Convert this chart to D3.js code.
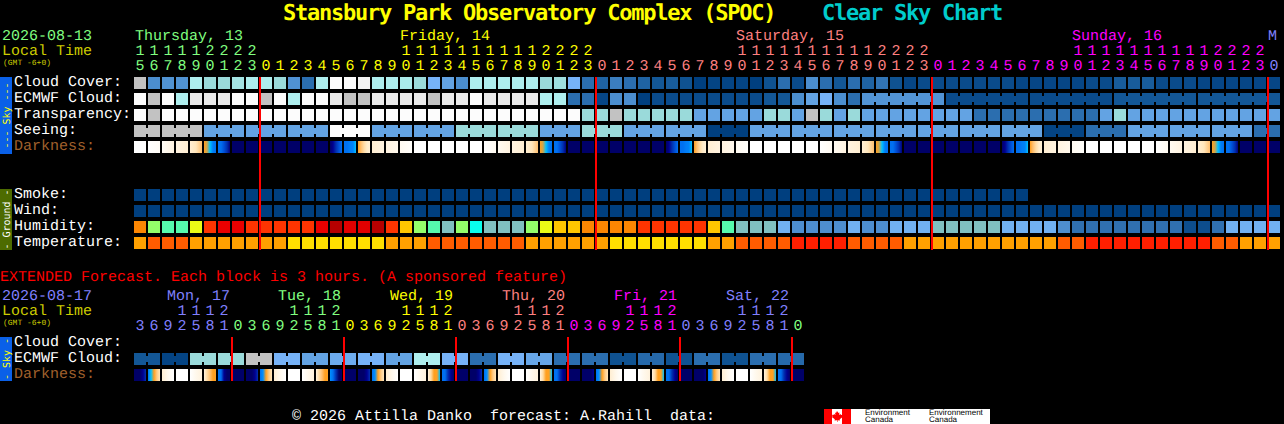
<!DOCTYPE html>
<html>
<head>
<meta charset="utf-8">
<title>Stansbury Park Observatory Complex (SPOC) Clear Sky Chart</title>
<script src="https://d3js.org/d3.v7.min.js"></script>
<style>
    body { margin: 0; background: #000; overflow: hidden; }
    svg { display: block; }
    text { font-family: "Liberation Mono", monospace; font-size: 15px; white-space: pre; text-rendering: geometricPrecision; }
</style>
</head>
<body>
<div id="chart"></div>
<script>
// Hours shown on the hourly chart, starts at 15:00 Thursday
var hours = [15, 16, 17, 18, 19, 20, 21, 22, 23,
    0, 1, 2, 3, 4, 5, 6, 7, 8, 9, 10, 11, 12, 13, 14, 15, 16, 17, 18, 19, 20, 21, 22, 23,
    0, 1, 2, 3, 4, 5, 6, 7, 8, 9, 10, 11, 12, 13, 14, 15, 16, 17, 18, 19, 20, 21, 22, 23,
    0, 1, 2, 3, 4, 5, 6, 7, 8, 9, 10, 11, 12, 13, 14, 15, 16, 17, 18, 19, 20, 21, 22, 23,
    0];

// Hours on the extended chart, each block is 3 hours
var extHours = [3, 6, 9, 12, 15, 18, 21,
    0, 3, 6, 9, 12, 15, 18, 21,
    0, 3, 6, 9, 12, 15, 18, 21,
    0, 3, 6, 9, 12, 15, 18, 21,
    0, 3, 6, 9, 12, 15, 18, 21,
    0, 3, 6, 9, 12, 15, 18, 21,
    0];

// Column where each day starts
var dayStarts = [0, 9, 33, 57, 81];
var extDayStarts = [0, 7, 15, 23, 31, 39, 47];

var dayNames = ["Thursday, 13", "Friday, 14", "Saturday, 15", "Sunday, 16", "M"];
var extDayNames = ["Mon, 17", "Tue, 18", "Wed, 19", "Thu, 20", "Fri, 21", "Sat, 22"];

// Midnights get a red line
var midnights = [9, 33, 57, 81];
var extMidnights = [7, 15, 23, 31, 39, 47];

// Cloud in percent
var cloudCover = [80, 30, 32, 32, 70, 60, 60, 65, 70, 70, 60, 32, 20, 70, 100, 100, 95, 70, 70, 68, 60,
    50, 40, 30, 70, 70, 70, 70, 70, 60, 62, 50, 20, 15, 25, 20, 15, 10, 12, 8, 0, 2, 2, 2, 0, 8, 20, 5, 30, 20, 10, 20,
    15, 22, 8, 3, 5, 5, 5, 5, 5, 5, 5, 3, 3, 3, 3, 3, 5, 5, 12, 12, 12, 5, 5, 5, 3, 3, 3, 3, 3, 3];

var ecmwfCloud = [100, 80, 100, 70, 90, 90, 90, 100, 100, 80, 100, 70, 100, 100, 90, 80, 80, 90, 90, 90, 90,
    80, 90, 90, 100, 90, 90, 90, 90, 70, 70, 20, 20, 3, 30, 30, 0, 5, 5, 5, 5, 5, 5, 5, 5, 10, 10, 30, 40, 50, 30, 20,
    33, 33, 33, 33, 33, 33, 5, 5, 5, 5, 5, 5, 5, 5, 5, 5, 5, 5, 10, 10, 10, 10, 10, 10, 10, 10, 10, 10, 10, 10];

var ecmwfRuns = [[52, 57], [58, 63], [64, 69], [70, 75], [76, 81]];

var transparency = [100, 80, 100, 100, 100, 100, 100, 100, 100, 100, 100, 100, 100, 100, 100, 100, 100, 100, 100, 100, 100,
    100, 100, 100, 100, 100, 100, 100, 100, 100, 100, 100, 60, 60, 80, 60, 60, 60, 60, 60, 40, 40, 40, 40, 40, 60, 60, 40, 80, 60, 40, 60,
    40, 40, 40, 40, 40, 40, 40, 40, 20, 20, 20, 20, 20, 20, 20, 20, 20, 40, 60, 40, 40, 40, 40, 40, 40, 40, 40, 40, 40, 40];

var seeing = [80, 80, 80, 80, 80, 40, 40, 40, 40, 40, 40, 40, 40, 40, 100, 100, 100, 40, 40, 40, 40,
    40, 40, 60, 60, 60, 60, 60, 60, 40, 40, 40, 60, 60, 60, 40, 40, 40, 40, 40, 40, 0, 0, 0, 40, 40, 40, 40, 40, 40, 40, 40,
    40, 40, 40, 40, 40, 40, 40, 40, 40, 40, 40, 40, 40, 2, 2, 2, 20, 20, 20, 40, 40, 40, 40, 40, 40, 40, 40, 40, 20, 20];

var seeingRuns = [[0, 1], [2, 4], [5, 7], [8, 10], [11, 13], [14, 16], [17, 19], [20, 22], [23, 25], [26, 28],
    [29, 31], [32, 34], [35, 37], [38, 40], [41, 43], [44, 46], [47, 49], [50, 52], [53, 55], [56, 58],
    [59, 61], [62, 64], [65, 67], [68, 70], [71, 73], [74, 76], [77, 79], [80, 81]];

// Limiting magnitude, a list means samples across one block from left to right
var darkness = [-4, [-4, -3.4], [-3.4, -2.6], [-2.6, -2.2], [-2.2, -1.8, -1], [-0.5, -0.4, 0, 0.8, 1], [1, 1, 2, 3, 4.5],
    5, 5, 5, 5, 5, 5, 5, [5, 4, 3, 2, 1], [1, 1, 0.8, 0.7, 0], [-0.5, -1, -1.5, -2, -2.3], [-2.2, -2.6], [-2.6, -3], [-3.2, -3.7], -4,
    -4, -4, -4, -4, [-4, -3.2], [-3.2, -2.6], [-2.6, -2.2], [-2.2, -1.8, -1], [-0.5, -0.4, 0, 0.8, 1], [1, 1, 2, 3, 4.5],
    5, 5, 5, 5, 5, 5, 5, [5, 4, 3, 2, 1], [1, 1, 0.8, 0.7, 0], [-0.5, -1, -1.5, -2, -2.3], [-2.2, -2.6], [-2.6, -3], [-3.2, -3.7],
    -4, -4, -4, -4, -4, [-4, -3.2], [-3.2, -2.6], [-2.6, -2.2],
    [-2.2, -1.8, -1], [-0.5, -0.4, 0, 0.8, 1], [1, 1, 2, 3, 4.5],
    5, 5, 5, 5, 5, 5, 5, [5, 4, 3, 2, 1], [1, 1, 0.8, 0.7, 0], [-0.5, -1, -1.5, -2, -2.3], [-2.2, -2.6], [-2.6, -3], [-3.2, -3.7],
    -4, -4, -4, -4, -4, [-4, -3.2], [-3.2, -2.6], [-2.6, -2.2], [-2.2, -1.8, -1], [-0.5, -0.4, 0, 0.8, 1], [1, 1, 2, 3, 4.5],
    5, 5, 5];

// Smoke stops early, the model has no data past that
var smoke = [0, 0, 0, 0, 0, 0, 0, 0, 0, 0, 0, 0, 0, 0, 0, 0, 0, 0, 0, 0, 0,
    0, 0, 0, 0, 0, 0, 0, 0, 0, 0, 0, 0, 0, 0, 0, 0, 0, 0, 0, 0, 0, 0, 0, 0, 0, 0, 0, 0, 0, 0, 0,
    0, 0, 0, 0, 0, 0, 0, 0, 0, 0, 0, 0];

var wind = [0, 0, 0, 0, 0, 0, 0, 0, 0, 0, 0, 0, 0, 0, 0, 0, 0, 0, 0, 0, 0,
    0, 0, 0, 0, 0, 0, 0, 0, 0, 0, 0, 0, 0, 0, 0, 0, 0, 0, 0, 0, 0, 0, 0, 0, 0, 0, 0, 0, 0, 0, 0,
    0, 0, 0, 0, 0, 0, 0, 0, 0, 0, 0, 0, 0, 0, 0, 0, 0, 0, 0, 0, 0, 0, 0, 0, 0, 0, 0, 0, 0, 0];

// Humidity in percent
var humidity = [77, 62, 57, 57, 67, 82, 87, 87, 82, 82, 82, 82, 82, 87, 92, 97, 97, 92, 82, 72, 62,
    57, 47, 62, 52, 47, 47, 47, 62, 67, 72, 72, 77, 77, 77, 77, 82, 82, 82, 82, 82, 72, 57, 47, 47, 47, 42, 37, 37, 37, 37, 42,
    37, 37, 42, 42, 42, 47, 47, 47, 47, 47, 42, 42, 42, 42, 37, 32, 32, 32, 32, 32, 32, 32, 32, 27, 27, 32, 42, 42, 42, 42];

// Temperature in Fahrenheit
var temperature = [78, 85, 85, 85, 78, 78, 78, 78, 78, 78, 78, 70, 70, 70, 70, 70, 70, 70, 78, 78, 78,
    85, 85, 85, 85, 85, 85, 85, 78, 78, 78, 78, 78, 78, 70, 70, 70, 70, 70, 70, 70, 78, 78, 85, 85, 85, 85, 92, 92, 92, 92, 85,
    85, 85, 85, 78, 78, 78, 78, 78, 78, 78, 78, 78, 78, 78, 85, 85, 92, 92, 92, 92, 92, 92, 92, 92, 92, 85, 85, 78, 78, 78];

// Extended chart values, one per 3 hour block
var extEcmwf = [10, 10, 2, 2, 60, 60, 60, 60, 80, 80, 50, 50, 40, 40, 45, 45, 50, 50, 40, 40,
    70, 70, 50, 50, 20, 20, 50, 50, 42, 42, 20, 20, 20, 20, 8, 8, 18, 18, 8, 8, 20, 20, 8, 8, 20, 20, 18, 18];

var extRuns = [[0, 1], [2, 3], [4, 5], [6, 7], [8, 9], [10, 11], [12, 13], [14, 15], [16, 17], [18, 19], [20, 21], [22, 23],
    [24, 25], [26, 27], [28, 29], [30, 31], [32, 33], [34, 35], [36, 37], [38, 39], [40, 41], [42, 43], [44, 45], [46, 47]];

var extDarkness = [[5, 5, 5, 4, 3], [1, 0, -0.5, -1.2, -1.8], [-2.2, -3, -4], -4, [-4, -3, -2.5], [-2.5, -1.5, -1, -0.5, -0.5], [1, 1, 4, 5, 5],
    5, [5, 5, 5, 4, 3], [1, 0.5, -0.5, -1.2, -1.8], [-2.2, -3, -4], -4, [-4, -3, -2.5], [-2.5, -1.5, -1, -0.5, -0.5], [0.5, 1, 3, 5, 5],
    5, [5, 5, 5, 4, 3], [1, 0.5, -0.5, -1.2, -1.8], [-2.2, -3, -4], -4, [-4, -3, -2.5], [-2.5, -1.5, -0.5, -0.5, 0], [1, 1, 3, 4, 5],
    5, [5, 5, 5, 4, 3], [1, 0.5, -0.5, -1.2, -1.8], [-2.2, -3, -4], -4, [-4, -3, -2.5], [-2.5, -1.5, -0.5, -0.5, 0], [1, 1, 3, 4, 5],
    5, [5, 5, 5, 5, 4], [1, 0.5, -0.5, -1.2, -1.8], [-2.2, -3, -4], -4, [-4, -3, -2.5], [-2.5, -1.5, -0.5, -0.5, 0], [1, 1, 3, 4, 5],
    5, [5, 5, 5, 5, 4], [1, 0.5, -0.5, -1.2, -1.8], [-2.2, -3, -4], -4, [-4, -3, -2.5], [-2.5, -1.5, -0.5, -0.5, 0], [1, 1, 3, 4, 5],
    5];

// Colour scales
var cloudScale = d3.scaleLinear()
    .domain([0, 10, 20, 30, 40, 50, 60, 70, 80, 90, 100])
    .range(["#003f7f", "#135796", "#2b6eaf", "#4b8ecf", "#63a3e3", "#76b2f7", "#9adada", "#aeeeee", "#c2c2c2", "#eaeaea", "#fcfcfc"]);

var humidityScale = d3.scaleThreshold()
    .domain([30, 35, 40, 45, 50, 55, 60, 65, 70, 75, 80, 85, 90, 95])
    .range(["#0d4d8d", "#3070b0", "#4e8ece", "#71b1f1", "#80c0c0", "#09feed", "#55faad", "#94fe6a", "#eafb16", "#fec600", "#fc8602", "#fe3401", "#ea0000", "#b70000", "#e10000"]);

var temperatureScale = d3.scaleThreshold()
    .domain([74, 82, 89])
    .range(["#ffdf00", "#ffa000", "#ff5c00", "#ff1f00"]);

var darknessScale = d3.scaleLinear()
    .domain([-4, -3.5, -3, -2.5, -2, -1.5, -1, -0.5, 0, 0.5, 1, 2, 3, 4, 5])
    .range(["#ffffff", "#fffdf9", "#fff8ec", "#fff2dd", "#ffecca", "#ffdca5", "#ffc070", "#ffa020", "#00c0ff", "#0090ff", "#0070f0", "#0050d8", "#0030b0", "#000090", "#000068"]);

// Define svg size
var svgWidth = 1284;
var svgHeight = 424;
var cellHeight = 12;

var svg = d3.select("#chart")
    .append("svg")
    .attr("width", svgWidth)
    .attr("height", svgHeight);

svg.append("rect")
    .attr("width", svgWidth)
    .attr("height", svgHeight)
    .attr("fill", "#000");

var defs = svg.append("defs");

// x scales, 12 pixel blocks with 2 pixel gaps
var xHourly = d3.scaleBand()
    .domain(d3.range(hours.length))
    .range([134, 1280])
    .paddingInner(2 / 14);

var xExtended = d3.scaleBand()
    .domain(d3.range(extHours.length))
    .range([134, 804])
    .paddingInner(2 / 14);

var dayColors = ["#80ff80", "#ffff00", "#ff8080", "#ff00ff", "#8080ff"];
var extDayColors = ["#8080ff", "#80ff80", "#ffff00", "#ff8080", "#ff00ff", "#8080ff", "#80ff80"];

// Helper for plain text
function addText(str, x, y, color, size, weight) {
    var t = svg.append("text")
        .attr("x", x)
        .attr("y", y)
        .attr("fill", color)
        .text(str);
    if (size) t.style("font-size", size + "px");
    if (weight) t.style("font-weight", weight);
    return t;
}

// Draw one row of blocks, runs are blocks joined by a narrow bridge
function drawRow(x, rowY, values, color, runs) {
    var g = svg.append("g");

    g.selectAll("rect.cell")
        .data(values)
        .enter()
        .append("rect")
        .attr("class", "cell")
        .attr("x", (d, i) => x(i))
        .attr("y", rowY)
        .attr("width", x.bandwidth())
        .attr("height", cellHeight)
        .attr("fill", d => color(d));

    if (runs) {
        runs.forEach(function(run) {
            d3.range(run[0], run[1]).forEach(function(i) {
                g.append("rect")
                    .attr("x", x(i) + x.bandwidth())
                    .attr("y", rowY + 3)
                    .attr("width", x.step() - x.bandwidth())
                    .attr("height", cellHeight - 6)
                    .attr("fill", color(values[i]));
            });
        });
    }
}

// Darkness blocks are shaded left to right
function drawDarkness(x, rowY, values, prefix) {
    svg.append("g")
        .selectAll("rect")
        .data(values)
        .enter()
        .append("rect")
        .attr("x", (d, i) => x(i))
        .attr("y", rowY)
        .attr("width", x.bandwidth())
        .attr("height", cellHeight)
        .attr("fill", function(d, i) {
            if (!Array.isArray(d)) return darknessScale(d);
            var id = prefix + i;
            var grad = defs.append("linearGradient").attr("id", id);
            d.forEach(function(v, j) {
                grad.append("stop")
                    .attr("offset", j / (d.length - 1))
                    .attr("stop-color", darknessScale(v));
            });
            return "url(#" + id + ")";
        });
}

// Hour digits, two axes stacked, one for tens and one for units
function drawHours(x, labels, starts, colors, tensY, unitsY) {
    function digitColor(i) {
        return colors[d3.bisectRight(starts, i) - 1];
    }
    var tens = d3.axisTop(x).tickSize(0).tickPadding(0)
        .tickFormat(i => labels[i] >= 10 ? String(Math.floor(labels[i] / 10)) : "");
    var units = d3.axisTop(x).tickSize(0).tickPadding(0)
        .tickFormat(i => String(labels[i] % 10));

    [[tens, tensY], [units, unitsY]].forEach(function(pair) {
        var g = svg.append("g")
            .attr("transform", `translate(0, ${pair[1]})`)
            .call(pair[0])
            .attr("font-family", null)
            .attr("font-size", null);
        g.select(".domain").remove();
        g.selectAll(".tick text")
            .attr("dy", 0)
            .attr("fill", i => digitColor(i));
    });
}

// Red lines at each midnight
function drawMidnights(x, list, top, bottom) {
    svg.append("g")
        .selectAll("line")
        .data(list)
        .enter()
        .append("line")
        .attr("x1", d => x(d))
        .attr("x2", d => x(d))
        .attr("y1", top)
        .attr("y2", bottom)
        .attr("stroke", "#ff0000")
        .attr("stroke-width", 2);
}

// Rotated strip on the left
function sideBar(top, bottom, fill, color, label) {
    svg.append("rect")
        .attr("x", 0)
        .attr("y", top)
        .attr("width", 12)
        .attr("height", bottom - top)
        .attr("fill", fill);
    svg.append("text")
        .attr("transform", `translate(9.5, ${(top + bottom) / 2}) rotate(-90)`)
        .attr("text-anchor", "middle")
        .attr("fill", color)
        .style("font-size", "10px")
        .style("font-family", "DejaVu Sans Mono")
        .text(label);
}

// Title, narrower pitch than the font so it fits the same width
function addTitle(str, x, color) {
    addText(str, x, 20, color, 22, "bold")
        .style("font-family", "DejaVu Sans Mono")
        .style("letter-spacing", "-1.24px");
}
addTitle("Stansbury Park Observatory Complex (SPOC)", 283, "#ffff00");
addTitle("Clear Sky Chart", 822, "#00cccc");

// Hourly chart header
addText("2026-08-13", 2, 40, "#80ff80");
addText("Local Time", 2, 55, "#cccc00");
addText("(GMT -6+0)", 3, 65, "#cccc00", 8);

var dayLabelX = [135, 400, 736, 1072, 1268];
dayNames.forEach(function(name, i) {
    addText(name, dayLabelX[i], 40, dayColors[i]);
});
drawHours(xHourly, hours, dayStarts, dayColors, 55, 70);

// Hourly chart rows
var rowLabels = [
    ["Cloud Cover:", 86, "#ffffff"],
    ["ECMWF Cloud:", 102, "#ffffff"],
    ["Transparency:", 118, "#ffffff"],
    ["Seeing:", 134, "#ffffff"],
    ["Darkness:", 150, "#a0602c"],
    ["Smoke:", 198, "#ffffff"],
    ["Wind:", 214, "#ffffff"],
    ["Humidity:", 230, "#ffffff"],
    ["Temperature:", 246, "#ffffff"]
];
rowLabels.forEach(function(r) {
    addText(r[0], 14, r[1], r[2]);
});

drawRow(xHourly, 77, cloudCover, cloudScale);
drawRow(xHourly, 93, ecmwfCloud, cloudScale, ecmwfRuns);
drawRow(xHourly, 109, transparency, cloudScale);
drawRow(xHourly, 125, seeing, cloudScale, seeingRuns);
drawDarkness(xHourly, 141, darkness, "dark");
drawRow(xHourly, 189, smoke, cloudScale);
drawRow(xHourly, 205, wind, cloudScale);
drawRow(xHourly, 221, humidity, humidityScale);
drawRow(xHourly, 237, temperature, temperatureScale);
drawMidnights(xHourly, midnights, 77, 250);

sideBar(77, 154, "#0a60e8", "#ffff00", "--- Sky ---");
sideBar(189, 250, "#4d6b00", "#ffffff", "- Ground -");

// Extended chart
addText("EXTENDED Forecast. Each block is 3 hours. (A sponsored feature)", 0, 281, "#ff0000");
addText("2026-08-17", 2, 300, "#8080ff");
addText("Local Time", 2, 315, "#cccc00");
addText("(GMT -6+0)", 3, 325, "#cccc00", 8);

var extLabelX = [167, 278, 390, 502, 614, 726];
extDayNames.forEach(function(name, i) {
    addText(name, extLabelX[i], 300, extDayColors[i]);
});
drawHours(xExtended, extHours, extDayStarts, extDayColors, 315, 330);

addText("Cloud Cover:", 14, 346, "#ffffff");
addText("ECMWF Cloud:", 14, 362, "#ffffff");
addText("Darkness:", 14, 378, "#a0602c");

drawRow(xExtended, 353, extEcmwf, cloudScale, extRuns);
drawDarkness(xExtended, 369, extDarkness, "extdark");
drawMidnights(xExtended, extMidnights, 337, 381);

sideBar(337, 381, "#0a60e8", "#ffff00", "- Sky -");

// Footer
addText("\u00a9 2026 Attilla Danko  forecast: A.Rahill  data:", 292, 420, "#ffffff");

// Environment Canada logo
svg.append("rect").attr("x", 824).attr("y", 409).attr("width", 166).attr("height", 15).attr("fill", "#ffffff");
svg.append("rect").attr("x", 824).attr("y", 409).attr("width", 8).attr("height", 15).attr("fill", "#ff0000");
svg.append("rect").attr("x", 842).attr("y", 409).attr("width", 9).attr("height", 15).attr("fill", "#ff0000");
svg.append("path")
    .attr("d", "M837 411 l1.5 2 1-.5 -.5 2.5 1.5-1 .5 1 1.5-.2 -.5 1.6 .7 .5 -3 2.3 .2 1.3 -2.4-.3 V422 h-.5 v-1.8 l-2.4.3 .2-1.3 -3-2.3 .7-.5 -.5-1.6 1.5.2 .5-1 1.5 1 -.5-2.5 1 .5 z")
    .attr("fill", "#ff0000");

function addLogoText(str, x, y) {
    addText(str, x, y, "#000000", 8).style("font-family", "Liberation Sans");
}
addLogoText("Environment", 865, 415);
addLogoText("Canada", 865, 422);
addLogoText("Environnement", 929, 415);
addLogoText("Canada", 929, 422);
</script>
</body>
</html>
